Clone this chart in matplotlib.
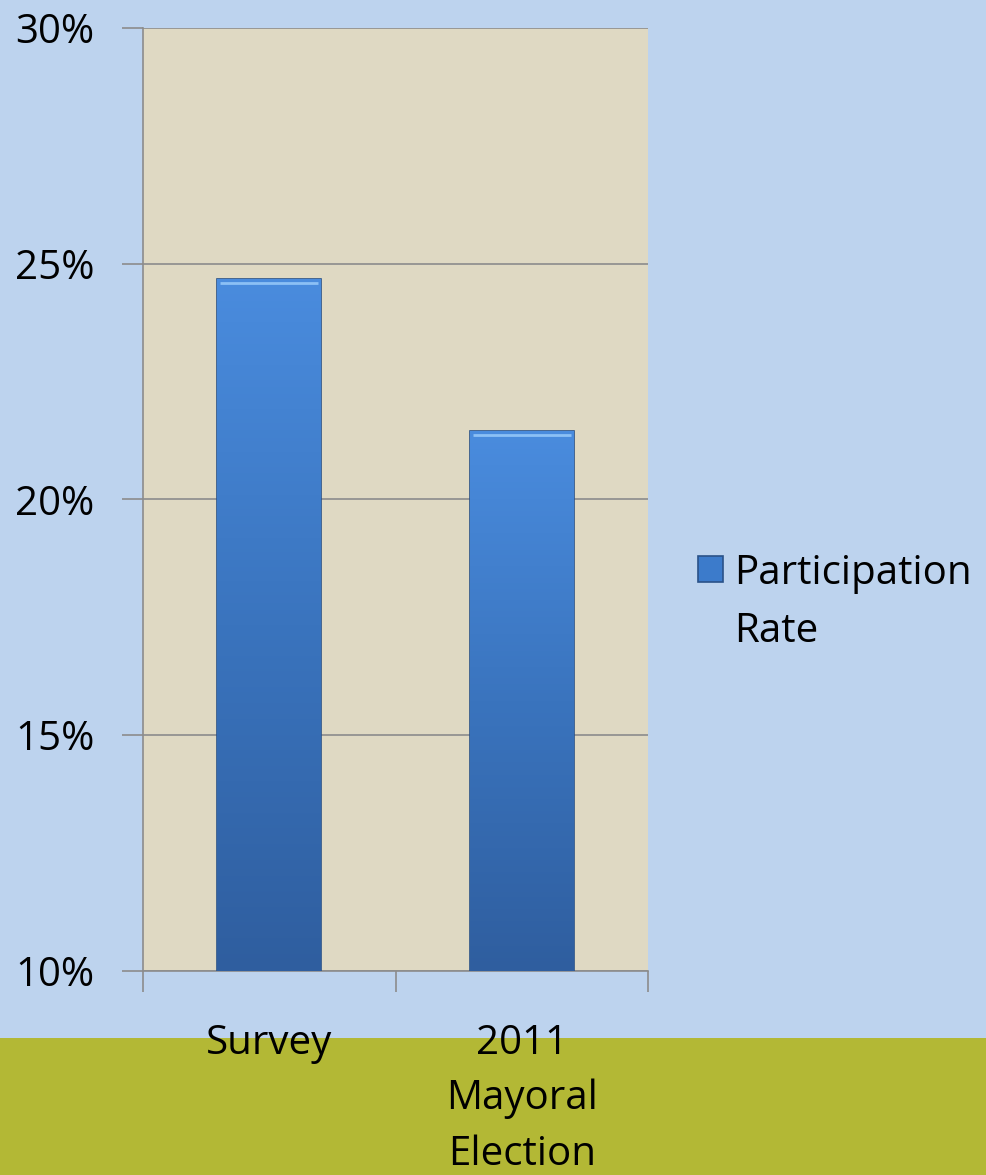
import matplotlib.pyplot as plt
from matplotlib.patches import Rectangle
from matplotlib.colors import LinearSegmentedColormap
import numpy as np

categories = ['Survey', '2011\nMayoral\nElection']
rates = [24.68, 21.45]
yticks = [10, 15, 20, 25, 30]
series_name = ['Participation', 'Rate']

plt.rcParams['font.family'] = ['Open Sans', 'DejaVu Sans']

fig = plt.figure(figsize=(9.86, 11.75), dpi=100)
fig.patch.set_facecolor('#BDD3EE')

# olive strip along the bottom
fig.patches.append(Rectangle((0, 0), 1, (1175 - 1038) / 1175, transform=fig.transFigure,
                             facecolor='#B3B835', edgecolor='none', zorder=0))

ax = fig.add_axes([143 / 986, (1175 - 971) / 1175, 505 / 986, 943 / 1175])
ax.set_zorder(2)
ax.set_facecolor('#DFD9C3')

x = np.arange(len(categories))
bars = ax.bar(x, rates, width=0.41, color='#3C7BCB', edgecolor='#2A5288',
              linewidth=1.2, zorder=3)

# vertical gradient inside each bar
grad = np.linspace(0, 1, 256).reshape(-1, 1)
cmap = LinearSegmentedColormap.from_list('bar', ['#2F5E9F', '#3A74BE', '#4A8CDE'])
for b in bars:
    x0, w, h = b.get_x(), b.get_width(), b.get_height()
    im = ax.imshow(grad, cmap=cmap, aspect='auto', origin='lower',
                   extent=[x0, x0 + w, 10, h], zorder=3.5)
    im.set_clip_path(b)
    ax.plot([x0 + 0.01, x0 + w - 0.01], [h - 0.08, h - 0.08], color='#8CC0F5',
            lw=2, zorder=4, solid_capstyle='butt')

ax.set_xlim(-0.5, 1.5)
ax.set_ylim(10, 30)
ax.set_yticks(yticks)
ax.set_yticklabels([f'{v}%' for v in yticks])
ax.yaxis.grid(True, color='#8C8C8C', linewidth=1.2, zorder=1)
ax.set_axisbelow(True)

ax.set_xticks(x)
ax.set_xticklabels(categories, linespacing=1.48)
ax.set_xticks([-0.5, 0.5, 1.5], minor=True)
ax.tick_params(axis='x', which='major', length=0, pad=38)
ax.tick_params(axis='x', which='minor', length=15, width=1.2, color='#8C8C8C')
ax.tick_params(axis='y', length=15, width=1.2, color='#8C8C8C', pad=20)
ax.tick_params(labelsize=29, labelcolor='black')

for s in ['top', 'right']:
    ax.spines[s].set_visible(False)
for s in ['left', 'bottom']:
    ax.spines[s].set_color('#8C8C8C')
    ax.spines[s].set_linewidth(1.2)

leg = fig.legend(handles=[bars], labels=[series_name[0]], loc='upper left',
                 bbox_to_anchor=(682 / 986, 1 - 537 / 1175), frameon=False,
                 fontsize=29, handlelength=0.62, handleheight=0.62,
                 handletextpad=0.28, borderaxespad=0)

# second line of the legend label, under the first
fig.canvas.draw()
bb = leg.get_texts()[0].get_window_extent().transformed(fig.transFigure.inverted())
fig.text(bb.x0, bb.y0 - 58 / 1175, series_name[1], fontsize=29,
         ha='left', va='bottom')

fig.savefig('out.png', dpi=100, facecolor=fig.get_facecolor())
